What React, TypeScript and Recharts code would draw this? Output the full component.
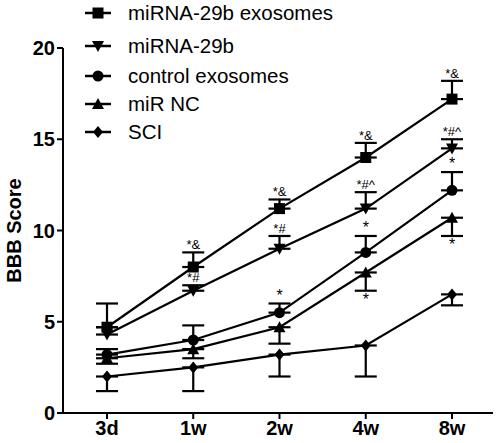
import React from "react";
import { ErrorBar, LabelList, Line, LineChart, XAxis, YAxis } from "recharts";

const timepoints = ["3d", "1w", "2w", "4w", "8w"];

// means, error bars one-sided (up for the top three, down for the bottom two)
const exoMean = [4.7, 8.0, 11.2, 14.0, 17.2];
const exoErr = [1.3, 0.8, 0.5, 0.8, 1.0];
const mirMean = [4.3, 6.7, 9.0, 11.2, 14.5];
const mirErr = [0.4, 0.3, 0.7, 0.9, 0.5];
const ctrlMean = [3.2, 4.0, 5.5, 8.8, 12.2];
const ctrlErr = [0.3, 0.8, 0.5, 0.9, 1.0];
const ncMean = [3.0, 3.5, 4.7, 7.7, 10.7];
const ncErr = [0.3, 0.5, 0.9, 1.0, 1.0];
const sciMean = [2.0, 2.5, 3.2, 3.7, 6.5];
const sciErr = [0.8, 1.3, 1.2, 1.7, 0.6];

// significance marks
const exoNotes = ["", "*&", "*&", "*&", "*&"];
const mirNotes = ["", "*#", "*#", "*#^", "*#^"];
const ctrlNotes = ["", "", "*", "*", "*"];
const ncNotes = ["", "", "", "*", "*"];

const yTicks = [0, 5, 10, 15, 20];

const legendItems = [
  { name: "miRNA-29b exosomes", shape: "square", y: 13 },
  { name: "miRNA-29b", shape: "down", y: 46 },
  { name: "control exosomes", shape: "circle", y: 76 },
  { name: "miR NC", shape: "up", y: 104 },
  { name: "SCI", shape: "diamond", y: 132 },
];

const data = timepoints.map((t, i) => ({
  t,
  exo: exoMean[i],
  exoE: [0, exoErr[i]],
  exoTop: exoMean[i] + exoErr[i],
  exoNote: exoNotes[i],
  mir: mirMean[i],
  mirE: [0, mirErr[i]],
  mirTop: mirMean[i] + mirErr[i],
  mirNote: mirNotes[i],
  ctrl: ctrlMean[i],
  ctrlE: [0, ctrlErr[i]],
  ctrlTop: ctrlMean[i] + ctrlErr[i],
  ctrlNote: ctrlNotes[i],
  nc: ncMean[i],
  ncE: [ncErr[i], 0],
  ncBottom: ncMean[i] - ncErr[i],
  ncNote: ncNotes[i],
  sci: sciMean[i],
  sciE: [sciErr[i], 0],
}));

const FONT = "'Liberation Sans', Arial, Helvetica, sans-serif";

const Marker = ({ shape, cx, cy }: { shape: string; cx: number; cy: number }) => {
  if (cx == null || cy == null) return null;
  switch (shape) {
    case "square":
      return <rect x={cx - 5.5} y={cy - 5.5} width={11} height={11} fill="#000" />;
    case "down":
      return <polygon points={`${cx - 6},${cy - 5} ${cx + 6},${cy - 5} ${cx},${cy + 6}`} fill="#000" />;
    case "circle":
      return <circle cx={cx} cy={cy} r={5.5} fill="#000" />;
    case "up":
      return <polygon points={`${cx - 6},${cy + 5} ${cx + 6},${cy + 5} ${cx},${cy - 6}`} fill="#000" />;
    default:
      return <polygon points={`${cx},${cy - 6} ${cx + 5},${cy} ${cx},${cy + 6} ${cx - 5},${cy}`} fill="#000" />;
  }
};

const dotFor = (shape: string) => (props: any) => (
  <Marker key={`${shape}-${props.index}`} shape={shape} cx={props.cx} cy={props.cy} />
);

const noteStyle = { fontSize: 13, fontFamily: FONT, fill: "#000" };

const LegendBox = () => (
  <svg width={380} height={150} style={{ position: "absolute", left: 0, top: 0 }}>
    {legendItems.map((item) => (
      <g key={item.name}>
        <line x1={85} x2={111} y1={item.y} y2={item.y} stroke="#000" strokeWidth={2.5} />
        <Marker shape={item.shape} cx={98} cy={item.y} />
        <text x={128} y={item.y} dy="0.35em" fontSize={20.5} fontFamily={FONT} fill="#000">
          {item.name}
        </text>
      </g>
    ))}
  </svg>
);

const series = [
  { key: "exo", shape: "square" },
  { key: "mir", shape: "down" },
  { key: "ctrl", shape: "circle" },
  { key: "nc", shape: "up" },
  { key: "sci", shape: "diamond" },
];

const tickStyle = { fill: "#000", fontSize: 20, fontWeight: "bold", fontFamily: FONT };

export default function App() {
  return (
    <div style={{ position: "absolute", left: 0, top: 0, width: 500, height: 443, background: "#fff" }}>
      <LineChart width={500} height={443} data={data} margin={{ top: 48, right: 7, bottom: 0, left: 0 }}>
        <XAxis
          dataKey="t"
          padding={{ left: 44, right: 41 }}
          height={30}
          stroke="#000"
          strokeWidth={2}
          tickSize={6}
          tick={tickStyle}
          tickLine={{ stroke: "#000", strokeWidth: 2 }}
        />
        <YAxis
          domain={[0, 20]}
          ticks={yTicks}
          width={63}
          stroke="#000"
          strokeWidth={2}
          tickSize={6}
          tick={tickStyle}
          tickLine={{ stroke: "#000", strokeWidth: 2 }}
          label={{
            value: "BBB Score",
            angle: -90,
            position: "insideLeft",
            offset: 14,
            style: { textAnchor: "middle", fill: "#000", fontSize: 20, fontWeight: "bold", fontFamily: FONT },
          }}
        />
        {series.map((s) => (
          <Line
            key={s.key}
            dataKey={s.key}
            stroke="#000"
            strokeWidth={2.2}
            isAnimationActive={false}
            dot={dotFor(s.shape)}
            activeDot={false}
          >
            <ErrorBar dataKey={`${s.key}E`} width={11} stroke="#000" strokeWidth={2.2} direction="y" />
          </Line>
        ))}
        <Line dataKey="exoTop" stroke="none" dot={false} activeDot={false} isAnimationActive={false}>
          <LabelList dataKey="exoNote" position="top" offset={3} style={noteStyle} />
        </Line>
        <Line dataKey="mirTop" stroke="none" dot={false} activeDot={false} isAnimationActive={false}>
          <LabelList dataKey="mirNote" position="top" offset={3} style={noteStyle} />
        </Line>
        <Line dataKey="ctrlTop" stroke="none" dot={false} activeDot={false} isAnimationActive={false}>
          <LabelList dataKey="ctrlNote" position="top" offset={3} style={{ ...noteStyle, fontSize: 16 }} />
        </Line>
        <Line dataKey="ncBottom" stroke="none" dot={false} activeDot={false} isAnimationActive={false}>
          <LabelList dataKey="ncNote" position="bottom" offset={3} style={{ ...noteStyle, fontSize: 16 }} />
        </Line>
      </LineChart>
      <LegendBox />
    </div>
  );
}
